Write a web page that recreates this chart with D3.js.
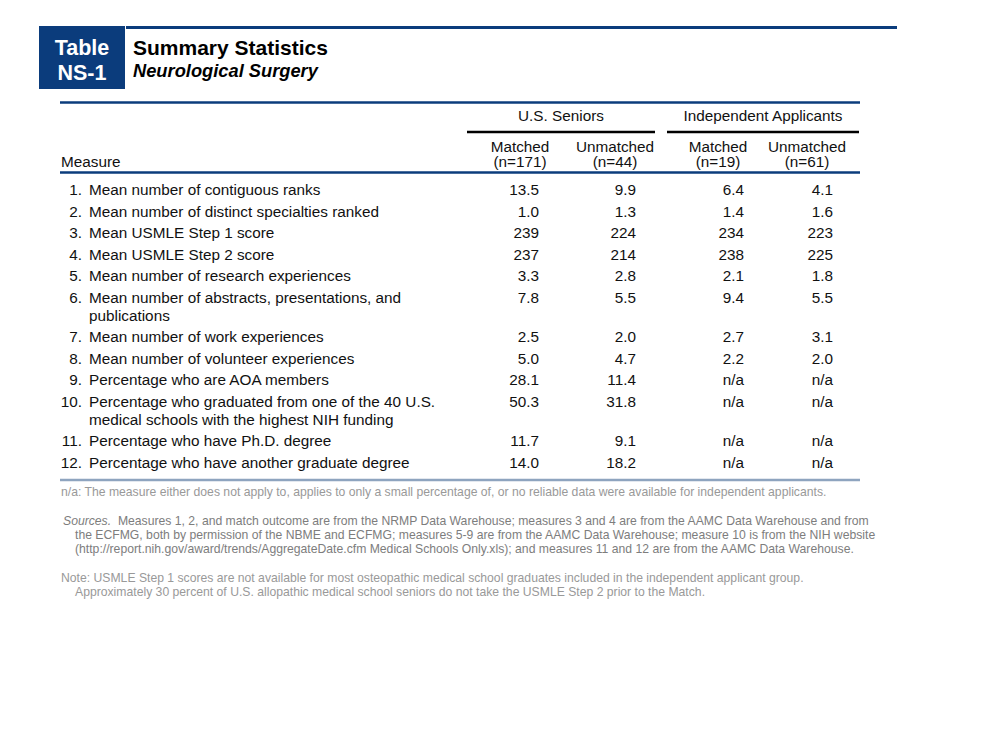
<!DOCTYPE html>
<html>
<head>
<meta charset="utf-8">
<script src="https://cdn.jsdelivr.net/npm/d3@7"></script>
<style>
  html, body { margin: 0; padding: 0; background: #fff; }
  svg { display: block; font-family: "Liberation Sans", Arial, sans-serif; }
</style>
</head>
<body>
<svg id="chart" width="1008" height="739"></svg>
<script>
// ---------- Data ----------
const tableLabel = ["Table", "NS-1"];
const title = "Summary Statistics";
const subtitle = "Neurological Surgery";

const groups = ["U.S. Seniors", "Independent Applicants"];
const columnKeys = ["usMatched", "usUnmatched", "indMatched", "indUnmatched"];
const columnTitles = ["Matched", "Unmatched", "Matched", "Unmatched"];
const columnCounts = ["(n=171)", "(n=44)", "(n=19)", "(n=61)"];

const measures = [
  ["Mean number of contiguous ranks"],
  ["Mean number of distinct specialties ranked"],
  ["Mean USMLE Step 1 score"],
  ["Mean USMLE Step 2 score"],
  ["Mean number of research experiences"],
  ["Mean number of abstracts, presentations, and", "publications"],
  ["Mean number of work experiences"],
  ["Mean number of volunteer experiences"],
  ["Percentage who are AOA members"],
  ["Percentage who graduated from one of the 40 U.S.", "medical schools with the highest NIH funding"],
  ["Percentage who have Ph.D. degree"],
  ["Percentage who have another graduate degree"]
];
const decimals = [1, 1, 0, 0, 1, 1, 1, 1, 1, 1, 1, 1];

const usMatched    = [13.5, 1.0, 239, 237, 3.3, 7.8, 2.5, 5.0, 28.1, 50.3, 11.7, 14.0];
const usUnmatched  = [9.9, 1.3, 224, 214, 2.8, 5.5, 2.0, 4.7, 11.4, 31.8, 9.1, 18.2];
const indMatched   = [6.4, 1.4, 234, 238, 2.1, 9.4, 2.7, 2.2, null, null, null, null];
const indUnmatched = [4.1, 1.6, 223, 225, 1.8, 5.5, 3.1, 2.0, null, null, null, null];

const naNote = "n/a: The measure either does not apply to, applies to only a small percentage of, or no reliable data were available for independent applicants.";
const sourcesLines = [
  "Measures 1, 2, and match outcome are from the NRMP Data Warehouse; measures 3 and 4 are from the AAMC Data Warehouse and from",
  "the ECFMG, both by permission of the NBME and ECFMG; measures 5-9 are from the AAMC Data Warehouse; measure 10 is from the NIH website",
  "(http://report.nih.gov/award/trends/AggregateDate.cfm Medical Schools Only.xls); and measures 11 and 12 are from the AAMC Data Warehouse."
];
const noteLines = [
  "Note: USMLE Step 1 scores are not available for most osteopathic medical school graduates included in the independent applicant group.",
  "Approximately 30 percent of U.S. allopathic medical school seniors do not take the USMLE Step 2 prior to the Match."
];

// ---------- Styling ----------
const BLUE = "#0b3c7c";
const TEXT = "#111";
const GREY = "#999";
const SRC = "#7d7d7d";

const svg = d3.select("#chart");

// ---------- Title block ----------
svg.append("rect").attr("x", 39).attr("y", 26).attr("width", 86).attr("height", 63).attr("fill", BLUE);
svg.selectAll("text.tlabel").data(tableLabel).join("text")
  .attr("class", "tlabel")
  .attr("x", 82).attr("y", (d, i) => 55 + i * 24.5)
  .attr("text-anchor", "middle").attr("fill", "#fff")
  .attr("font-size", 21.5).attr("font-weight", "bold").text(d => d);

svg.append("line").attr("x1", 126).attr("x2", 897).attr("y1", 27.5).attr("y2", 27.5)
  .attr("stroke", BLUE).attr("stroke-width", 3);
svg.append("text").attr("x", 133).attr("y", 54.5).attr("font-size", 21).attr("font-weight", "bold")
  .attr("fill", "#000").text(title);
svg.append("text").attr("x", 133).attr("y", 77).attr("font-size", 18.3).attr("font-weight", "bold")
  .attr("font-style", "italic").attr("fill", "#000").text(subtitle);

// ---------- Scales ----------
const colRight = d3.scaleOrdinal().domain(columnKeys).range([539, 636, 744, 833]);
const colCenter = d3.scaleOrdinal().domain(columnKeys).range([520, 615, 718, 807]);
const groupCenter = d3.scaleOrdinal().domain(groups).range([561, 763]);
const groupSpan = d3.scaleOrdinal().domain(groups).range([[467, 655], [667, 859]]);

const rowStep = 21.5, wrapStep = 18;
let acc = 0;
const rowOffsets = measures.map(m => { const o = acc; acc += rowStep + wrapStep * (m.length - 1); return o; });
const y = d3.scaleLinear().domain([0, 1]).range([195, 196]);

// ---------- Header ----------
const FS = 15.3;
svg.append("line").attr("x1", 60).attr("x2", 860).attr("y1", 102.5).attr("y2", 102.5)
  .attr("stroke", BLUE).attr("stroke-width", 2.5);

svg.selectAll("text.group").data(groups).join("text")
  .attr("class", "group").attr("x", d => groupCenter(d)).attr("y", 121)
  .attr("text-anchor", "middle").attr("font-size", FS).attr("fill", TEXT).text(d => d);

svg.selectAll("line.gline").data(groups).join("line")
  .attr("class", "gline")
  .attr("x1", d => groupSpan(d)[0]).attr("x2", d => groupSpan(d)[1])
  .attr("y1", 132).attr("y2", 132).attr("stroke", "#000").attr("stroke-width", 2.5);

svg.selectAll("text.ctitle").data(columnKeys).join("text")
  .attr("class", "ctitle").attr("x", d => colCenter(d)).attr("y", 151.5)
  .attr("text-anchor", "middle").attr("font-size", FS).attr("fill", TEXT)
  .text((d, i) => columnTitles[i]);
svg.selectAll("text.ccount").data(columnKeys).join("text")
  .attr("class", "ccount").attr("x", d => colCenter(d)).attr("y", 167)
  .attr("text-anchor", "middle").attr("font-size", FS).attr("fill", TEXT)
  .text((d, i) => columnCounts[i]);

svg.append("text").attr("x", 61).attr("y", 166.5).attr("font-size", FS).attr("fill", TEXT).text("Measure");

svg.append("line").attr("x1", 60).attr("x2", 860).attr("y1", 172.5).attr("y2", 172.5)
  .attr("stroke", BLUE).attr("stroke-width", 2.5);

// ---------- Body ----------
const columns = { usMatched, usUnmatched, indMatched, indUnmatched };
const rows = measures.map((m, i) => ({ i, lines: m, off: rowOffsets[i] }));

const rowG = svg.selectAll("g.row").data(rows).join("g")
  .attr("class", "row").attr("transform", d => `translate(0,${y(d.off)})`);

rowG.append("text").attr("x", 82).attr("y", 0).attr("text-anchor", "end")
  .attr("font-size", FS).attr("fill", TEXT).text(d => (d.i + 1) + ".");

rowG.selectAll("text.lbl").data(d => d.lines).join("text")
  .attr("class", "lbl").attr("x", 89).attr("y", (d, j) => j * wrapStep)
  .attr("font-size", FS).attr("fill", TEXT).text(d => d);

rowG.selectAll("text.val").data(d => columnKeys.map(k => ({ k, v: columns[k][d.i], dec: decimals[d.i] })))
  .join("text").attr("class", "val")
  .attr("x", d => colRight(d.k)).attr("y", 0).attr("text-anchor", "end")
  .attr("font-size", FS).attr("fill", TEXT)
  .text(d => d.v == null ? "n/a" : d3.format("." + d.dec + "f")(d.v));

// ---------- Footer ----------
svg.append("line").attr("x1", 60).attr("x2", 860).attr("y1", 480).attr("y2", 480)
  .attr("stroke", "#8ea4bf").attr("stroke-width", 2.5);

const FN = 12.2;
svg.append("text").attr("x", 61).attr("y", 496).attr("font-size", FN).attr("fill", GREY).text(naNote);

const src = svg.append("g").attr("font-size", FN).attr("fill", SRC);
sourcesLines.forEach((line, i) => {
  const t = src.append("text").attr("x", i === 0 ? 63 : 75).attr("y", 525 + i * 14);
  if (i === 0) {
    t.append("tspan").attr("font-style", "italic").text("Sources.");
    t.append("tspan").text("\u00a0 " + line);
  } else {
    t.text(line);
  }
});

svg.selectAll("text.note").data(noteLines).join("text")
  .attr("class", "note").attr("x", (d, i) => i === 0 ? 61 : 75).attr("y", (d, i) => 582 + i * 14)
  .attr("font-size", FN).attr("fill", GREY).text(d => d);
</script>
</body>
</html>
